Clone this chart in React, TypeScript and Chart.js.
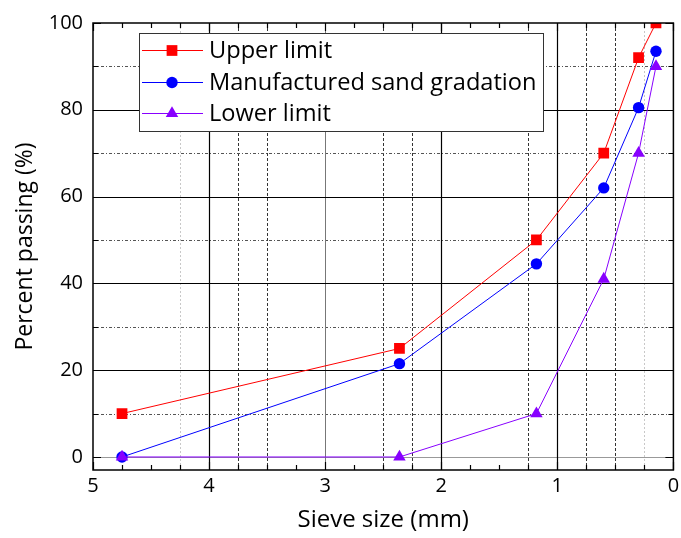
import React, { useEffect, useRef } from "react";
import { Chart, registerables } from "chart.js";

Chart.register(...registerables);

// ---------- data ----------
const sieveSizes = [4.75, 2.36, 1.18, 0.6, 0.3, 0.15];
const upperLimit = [10, 25, 50, 70, 92, 100];
const manufacturedSand = [0, 21.5, 44.5, 62, 80.5, 93.5];
const lowerLimit = [0, 0, 10, 41, 70, 90];
const seriesNames = ["Upper limit", "Manufactured sand gradation", "Lower limit"];

const xTickValues = [5, 4, 3, 2, 1, 0];
const yTickValues = [0, 20, 40, 60, 80, 100];

// grid line values
const gridSolidX = [1, 2, 4];
const gridGrayX = [3];
const gridDashedX = [3.75, 3.5, 2.5, 2.25, 1.25, 0.75, 0.5];
const gridFaintX = [4.25, 0.25];
const gridSolidY = [20, 40, 60, 80];
const gridDashedY = [10, 30, 50, 70, 90];
const gridGrayY = [0];

const FONT = "'Open Sans', 'Noto Sans', sans-serif";
const RED = "#ff0000";
const BLUE = "#0000ff";
const PURPLE = "#8800ff";

const seriesColors = [RED, BLUE, PURPLE];
const seriesStyles = ["rect", "circle", "triangle"];
const seriesRadius = [7.6, 5.7, 7.2];

function drawMarker(ctx: CanvasRenderingContext2D, style: string, r: number, cx: number, cy: number) {
  ctx.beginPath();
  if (style === "rect") {
    const s = r * Math.SQRT1_2;
    ctx.rect(cx - s, cy - s, 2 * s, 2 * s);
  } else if (style === "circle") {
    ctx.arc(cx, cy, r, 0, Math.PI * 2);
  } else {
    ctx.moveTo(cx, cy - r);
    ctx.lineTo(cx + r * 0.866, cy + r * 0.5);
    ctx.lineTo(cx - r * 0.866, cy + r * 0.5);
    ctx.closePath();
  }
  ctx.fill();
}

const gridPlugin = {
  id: "gridFrame",
  beforeDatasetsDraw(chart: any) {
    const { ctx, chartArea: a, scales } = chart;
    const x = scales.x;
    const y = scales.y;
    ctx.save();
    ctx.beginPath();
    ctx.rect(a.left, a.top, a.right - a.left, a.bottom - a.top);
    ctx.clip();
    const vline = (v: number, color: string, w: number, dash: number[]) => {
      const px = Math.round(x.getPixelForValue(v)) + 0.5;
      ctx.beginPath();
      ctx.setLineDash(dash);
      ctx.strokeStyle = color;
      ctx.lineWidth = w;
      ctx.moveTo(px, a.top);
      ctx.lineTo(px, a.bottom);
      ctx.stroke();
    };
    const hline = (v: number, color: string, w: number, dash: number[]) => {
      const py = Math.round(y.getPixelForValue(v)) + 0.5;
      ctx.beginPath();
      ctx.setLineDash(dash);
      ctx.strokeStyle = color;
      ctx.lineWidth = w;
      ctx.moveTo(a.left, py);
      ctx.lineTo(a.right, py);
      ctx.stroke();
    };
    gridFaintX.forEach((v) => vline(v, "#c8c8c8", 1, [2, 2]));
    gridDashedX.forEach((v) => vline(v, "#333333", 1, [3, 2]));
    gridDashedY.forEach((v) => hline(v, "#555555", 1, [3, 2, 1, 2]));
    gridGrayY.forEach((v) => hline(v, "#999999", 1, []));
    gridGrayX.forEach((v) => vline(v, "#777777", 1, []));
    gridSolidX.forEach((v) => vline(v, "#000000", 1.2, []));
    gridSolidY.forEach((v) => hline(v, "#000000", 1.2, []));
    ctx.restore();
  },
  afterDatasetsDraw(chart: any) {
    const { ctx, chartArea: a, scales } = chart;
    const x = scales.x;
    const y = scales.y;
    ctx.save();
    ctx.setLineDash([]);
    ctx.strokeStyle = "#000";
    ctx.lineWidth = 1.5;
    ctx.strokeRect(a.left, a.top, a.right - a.left, a.bottom - a.top);
    ctx.lineWidth = 1.2;
    for (let i = 0; i <= 20; i++) {
      const v = i * 0.25;
      const major = i % 4 === 0;
      const len = major ? 8 : 5;
      const px = Math.round(x.getPixelForValue(v)) + 0.5;
      ctx.beginPath();
      ctx.moveTo(px, a.bottom);
      ctx.lineTo(px, a.bottom - len);
      ctx.moveTo(px, a.top);
      ctx.lineTo(px, a.top + len);
      ctx.stroke();
    }
    for (let v = 0; v <= 100; v += 10) {
      const major = v % 20 === 0;
      const len = major ? 8 : 5;
      const py = Math.round(y.getPixelForValue(v)) + 0.5;
      ctx.beginPath();
      ctx.moveTo(a.left, py);
      ctx.lineTo(a.left + len, py);
      ctx.moveTo(a.right, py);
      ctx.lineTo(a.right - len, py);
      ctx.stroke();
    }
    ctx.restore();
  },
};

const legendPlugin = {
  id: "legendBox",
  afterDraw(chart: any) {
    const { ctx } = chart;
    const boxL = 139;
    const boxT = 33;
    const boxW = 404;
    const boxH = 98;
    ctx.save();
    ctx.fillStyle = "#ffffff";
    ctx.fillRect(boxL, boxT, boxW, boxH);
    ctx.strokeStyle = "#333333";
    ctx.lineWidth = 1;
    ctx.setLineDash([]);
    ctx.strokeRect(boxL + 0.5, boxT + 0.5, boxW, boxH);
    const rows = [50, 82, 113];
    chart.data.datasets.forEach((ds: any, i: number) => {
      const ry = rows[i];
      ctx.beginPath();
      ctx.strokeStyle = ds.borderColor;
      ctx.lineWidth = 1;
      ctx.moveTo(142, ry + 0.5);
      ctx.lineTo(203, ry + 0.5);
      ctx.stroke();
      ctx.fillStyle = ds.pointBackgroundColor;
      drawMarker(ctx, ds.pointStyle, ds.pointRadius, 172, ry + 0.5);
      ctx.fillStyle = "#000";
      ctx.font = `23.6px ${FONT}`;
      ctx.textBaseline = "middle";
      ctx.textAlign = "left";
      ctx.fillText(ds.label, 209, ry + 1);
    });
    ctx.restore();
  },
};

export default function App() {
  const canvasRef = useRef<HTMLCanvasElement | null>(null);

  useEffect(() => {
    if (!canvasRef.current) return;
    const seriesValues = [upperLimit, manufacturedSand, lowerLimit];
    const chart = new Chart(canvasRef.current, {
      type: "line",
      data: {
        datasets: seriesValues.map((vals, i) => ({
          label: seriesNames[i],
          data: sieveSizes.map((s, j) => ({ x: s, y: vals[j] })),
          borderColor: seriesColors[i],
          backgroundColor: seriesColors[i],
          pointBackgroundColor: seriesColors[i],
          pointBorderColor: seriesColors[i],
          pointBorderWidth: 0,
          pointStyle: seriesStyles[i] as any,
          pointRadius: seriesRadius[i],
          borderWidth: 1,
          tension: 0,
          order: 2 - i,
        })),
      },
      options: {
        animation: false,
        responsive: false,
        maintainAspectRatio: false,
        layout: { padding: { left: 0, top: 23, right: 4, bottom: 0 } },
        plugins: {
          legend: { display: false },
          tooltip: { enabled: false },
        },
        scales: {
          x: {
            type: "linear",
            reverse: true,
            min: 0,
            max: 5,
            afterFit: (s: any) => {
              s.height = 68;
              s.paddingLeft = 0;
              s.paddingRight = 0;
            },
            afterBuildTicks: (s: any) => {
              s.ticks = xTickValues.map((v) => ({ value: v }));
            },
            grid: { display: false, drawTicks: false },
            border: { display: false },
            ticks: {
              color: "#000",
              font: { family: FONT, size: 20 },
              padding: 4,
              maxRotation: 0,
              callback: (v: any) => String(v),
            },
            title: {
              display: true,
              text: "Sieve size (mm)",
              color: "#000",
              font: { family: FONT, size: 24 },
              padding: { top: 0, bottom: 3 },
            },
          },
          y: {
            type: "linear",
            min: -3,
            max: 100,
            afterFit: (s: any) => {
              s.width = 93;
              s.paddingTop = 0;
              s.paddingBottom = 0;
            },
            afterBuildTicks: (s: any) => {
              s.ticks = yTickValues.map((v) => ({ value: v }));
            },
            grid: { display: false, drawTicks: false },
            border: { display: false },
            ticks: {
              color: "#000",
              font: { family: FONT, size: 20 },
              padding: 10,
              callback: (v: any) => String(v),
            },
            title: {
              display: true,
              text: "Percent passing (%)",
              color: "#000",
              font: { family: FONT, size: 23 },
              padding: { top: 12, bottom: 0 },
            },
          },
        },
      },
      plugins: [gridPlugin, legendPlugin],
    });
    return () => chart.destroy();
  }, []);

  return (
    <div style={{ position: "fixed", left: 0, top: 0, width: 681, height: 538, background: "#fff" }}>
      <canvas ref={canvasRef} width={681} height={538} style={{ display: "block" }} />
    </div>
  );
}
